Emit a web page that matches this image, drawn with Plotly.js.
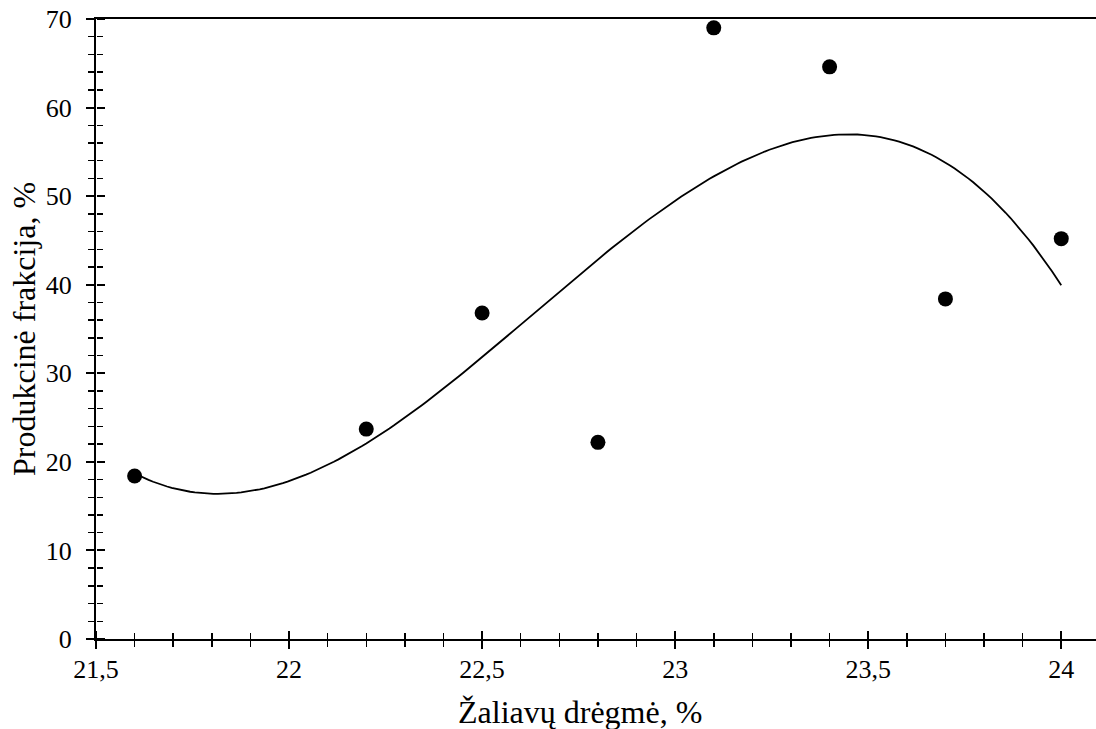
<!DOCTYPE html>
<html>
<head>
<meta charset="utf-8">
<script src="https://cdn.plot.ly/plotly-3.0.1.min.js"></script>
<style>
  html, body { margin: 0; padding: 0; background: #fff; }
  #chart { width: 1096px; height: 729px; }
</style>
</head>
<body>
<div id="chart"></div>
<script>
// Raw moisture (%) vs. product fraction (%)
const moisture = [21.6, 22.2, 22.5, 22.8, 23.1, 23.4, 23.7, 24.0];
const fraction = [18.4, 23.7, 36.8, 22.2, 69.0, 64.6, 38.4, 45.2];

const xTickVals = [21.5, 22, 22.5, 23, 23.5, 24];
const xTickText = ['21,5', '22', '22,5', '23', '23,5', '24'];
const yTickVals = [0, 10, 20, 30, 40, 50, 60, 70];

// Third-order least-squares trend through the measured points
function polyFit(xs, ys, order) {
  const mx = xs.reduce((a, b) => a + b, 0) / xs.length;
  const n = order + 1;
  const A = [];
  for (let i = 0; i < n; i++) {
    A.push(new Array(n + 1).fill(0));
  }
  xs.forEach((xv, k) => {
    const t = xv - mx;
    for (let i = 0; i < n; i++) {
      for (let j = 0; j < n; j++) A[i][j] += Math.pow(t, i + j);
      A[i][n] += ys[k] * Math.pow(t, i);
    }
  });
  for (let c = 0; c < n; c++) {
    let p = c;
    for (let r = c + 1; r < n; r++) if (Math.abs(A[r][c]) > Math.abs(A[p][c])) p = r;
    [A[c], A[p]] = [A[p], A[c]];
    for (let r = 0; r < n; r++) {
      if (r === c) continue;
      const f = A[r][c] / A[c][c];
      for (let j = c; j <= n; j++) A[r][j] -= f * A[c][j];
    }
  }
  const coef = A.map((row, i) => row[n] / row[i]);
  return x => coef.reduce((s, a, i) => s + a * Math.pow(x - mx, i), 0);
}

const trend = polyFit(moisture, fraction, 3);
const xMin = Math.min(...moisture), xMax = Math.max(...moisture);
const trendX = [], trendY = [];
for (let i = 0; i <= 200; i++) {
  const xv = xMin + (xMax - xMin) * i / 200;
  trendX.push(xv);
  trendY.push(trend(xv));
}

const FONT = { family: '"Liberation Serif", serif', size: 26, color: '#000' };
const TITLE_FONT = { family: '"Liberation Serif", serif', size: 32, color: '#000' };
const X_RANGE = [21.5, 24.09];
const Y_RANGE = [0, 70];

const traces = [
  {
    x: trendX, y: trendY, type: 'scatter', mode: 'lines',
    line: { color: '#000', width: 1.8 }, hoverinfo: 'skip', showlegend: false
  },
  {
    x: moisture, y: fraction, type: 'scatter', mode: 'markers',
    marker: { color: '#000', size: 15, symbol: 'circle' }, showlegend: false
  },
  // transparent trace bound to the helper axes that draw the inner half of each tick
  {
    x: [X_RANGE[0]], y: [Y_RANGE[0]], xaxis: 'x2', yaxis: 'y2', type: 'scatter', mode: 'markers',
    marker: { opacity: 0, size: 1 }, hoverinfo: 'skip', showlegend: false
  }
];

function tickAxis(range, vals, minorStep) {
  return {
    range: range, autorange: false, showgrid: false, zeroline: false,
    tickmode: 'array', tickvals: vals, ticks: 'outside', ticklen: 8, tickwidth: 2, tickcolor: '#000',
    minor: { dtick: minorStep, tick0: range[0], ticks: 'outside', ticklen: 6, tickwidth: 1.5,
             tickcolor: '#000', showgrid: false }
  };
}

const layout = {
  width: 1096, height: 729,
  margin: { l: 96, r: 0, t: 19, b: 90 },
  paper_bgcolor: '#fff', plot_bgcolor: '#fff',
  font: FONT,
  showlegend: false,
  xaxis: Object.assign(tickAxis(X_RANGE, xTickVals, 0.1), {
    ticktext: xTickText, showticklabels: true, tickfont: FONT, ticklabelstandoff: -2,
    showline: true, linecolor: '#000', linewidth: 2, mirror: true
  }),
  yaxis: Object.assign(tickAxis(Y_RANGE, yTickVals, 2), {
    showticklabels: true, tickfont: FONT, ticklabelstandoff: 9,
    showline: true, linecolor: '#000', linewidth: 2
  }),
  // helper axes sitting on the main axis lines, ticks pointing into the plot
  xaxis2: Object.assign(tickAxis(X_RANGE, xTickVals, 0.1), {
    overlaying: 'x', side: 'top', anchor: 'free', position: 0,
    showticklabels: false, showline: false
  }),
  yaxis2: Object.assign(tickAxis(Y_RANGE, yTickVals, 2), {
    overlaying: 'y', side: 'right', anchor: 'free', position: 0,
    showticklabels: false, showline: false
  }),
  annotations: [
    {
      text: 'Žaliavų drėgmė, %', xref: 'paper', yref: 'paper',
      x: (580 - 96) / 1000, y: 0, yshift: -73, xanchor: 'center', yanchor: 'middle',
      showarrow: false, font: TITLE_FONT
    },
    {
      text: 'Produkcinė frakcija, %', xref: 'paper', yref: 'paper',
      x: 0, xshift: -72, y: 0.5, xanchor: 'center', yanchor: 'middle',
      textangle: -90, showarrow: false, font: TITLE_FONT
    }
  ]
};

Plotly.newPlot('chart', traces, layout, { displayModeBar: false, staticPlot: true });
</script>
</body>
</html>
